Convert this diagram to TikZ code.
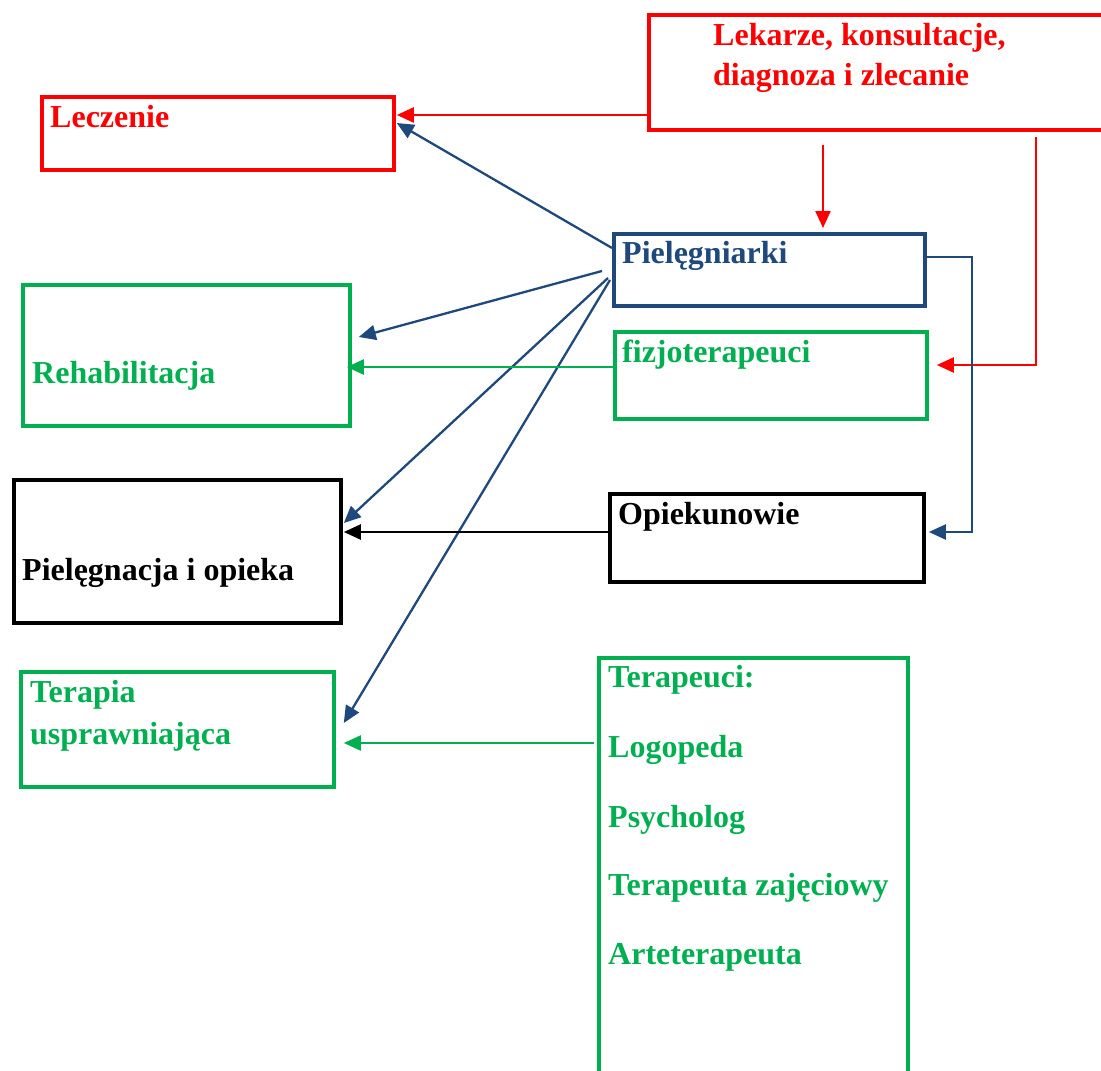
\documentclass[tikz,border=0pt]{standalone}
\usepackage{fontspec}
\setmainfont{Liberation Serif}
\usetikzlibrary{arrows.meta,calc}
\definecolor{cred}{RGB}{255,0,0}
\definecolor{cblue}{RGB}{31,73,125}
\definecolor{cgreen}{RGB}{0,176,80}
\tikzset{
  box/.style={draw, line width=3.8pt, inner sep=0pt, anchor=north west},
  redbox/.style={box, draw=cred},
  bluebox/.style={box, draw=cblue},
  greenbox/.style={box, draw=cgreen},
  blackbox/.style={box, draw=black},
  lbl/.style={anchor=base west, inner sep=0pt, font=\fontsize{32}{42}\selectfont\bfseries},
  arr/.style={line width=2.3pt, -{Triangle[length=17pt,width=15pt]}},
}
\begin{document}
\begin{tikzpicture}[x=1pt, y=-1pt]
\useasboundingbox (0,0) rectangle (1101,1071);

% boxes
\node[redbox,   minimum width=352pt, minimum height=73pt]  (lecz)   at (40,95)  {};
\node[redbox,   minimum width=470pt, minimum height=115pt] (lek)    at (647,13) {};
\node[bluebox,  minimum width=311pt, minimum height=72pt]  (piel)   at (612,232) {};
\node[greenbox, minimum width=312pt, minimum height=87pt]  (fizjo)  at (613,330) {};
\node[greenbox, minimum width=327pt, minimum height=141pt] (rehab)  at (21,283) {};
\node[blackbox, minimum width=314pt, minimum height=88pt]  (opiek)  at (608,492) {};
\node[blackbox, minimum width=327pt, minimum height=143pt] (pielop) at (12,478) {};
\node[greenbox, minimum width=313pt, minimum height=115pt] (terap)  at (19,670) {};
\node[greenbox, minimum width=309pt, minimum height=430pt] (terapeuci) at (597,656) {};

% labels
\node[lbl, text=cred]   (lecz-t)  at (50,127)  {Leczenie};
\node[lbl, text=cred]   (lek-t1)  at (713,45)  {Lekarze, konsultacje,};
\node[lbl, text=cred]   (lek-t2)  at (713,85)  {diagnoza i zlecanie};
\node[lbl, text=cblue]  (piel-t)  at (622,263) {Pielęgniarki};
\node[lbl, text=cgreen] (fizjo-t) at (622,362) {fizjoterapeuci};
\node[lbl, text=cgreen] (rehab-t) at (32,383)  {Rehabilitacja};
\node[lbl, text=black]  (opiek-t) at (618,524) {Opiekunowie};
\node[lbl, text=black]  (pielop-t) at (22,580) {Pielęgnacja i opieka};
\node[lbl, text=cgreen] (terap-t1) at (30,702) {Terapia};
\node[lbl, text=cgreen] (terap-t2) at (30,744) {usprawniająca};
\node[lbl, text=cgreen] (ter-t1) at (608,687) {Terapeuci:};
\node[lbl, text=cgreen] (ter-t2) at (608,757) {Logopeda};
\node[lbl, text=cgreen] (ter-t3) at (608,827) {Psycholog};
\node[lbl, text=cgreen] (ter-t4) at (608,895) {Terapeuta zajęciowy};
\node[lbl, text=cgreen] (ter-t5) at (608,964) {Arteterapeuta};

% free line ends
\coordinate (r1) at (823,145);
\coordinate (r2) at (1036,137);
\coordinate (b1) at (972,257);
\coordinate (f1) at ($(piel.west |- 0,271)+(-10,0)$);
\coordinate (f2) at ($(piel.west |- 0,278)+(-4,0)$);
\coordinate (f3) at ($(piel.west |- 0,280)+(-2,0)$);
\coordinate (g1) at ($(terapeuci.west |- 0,743)+(-3,0)$);

% doctors
\draw[arr, cred] (lek.west |- 0,115) -- ($(lecz.east |- 0,115)+(1,0)$);
\draw[arr, cred] (r1) -- ($(r1 |- piel.north)+(0,-4)$);
\draw[arr, cred] (r2) |- ($(fizjo.east |- 0,365)+(8,0)$);

% nurses
\draw[arr, cblue] (piel.east |- 0,257) -- (b1) |- ($(opiek.east |- 0,532)+(3,0)$);
\draw[arr, cblue] (piel.west |- 0,248) -- ($(lecz.east |- 0,123)+(1,0)$);
\draw[arr, cblue] (f1) -- ($(rehab.east |- 0,337)+(7,0)$);
\draw[arr, cblue] (f2) -- ($(pielop.east |- 0,523)+(1,0)$);
\draw[arr, cblue] (f3) -- ($(terap.east |- 0,723)+(8,0)$);

% other staff
\draw[arr, cgreen] (fizjo.west |- 0,367) -- ($(rehab.east |- 0,367)+(-5,0)$);
\draw[arr, black] (opiek.west |- 0,532) -- ($(pielop.east |- 0,532)+(1,0)$);
\draw[arr, cgreen] (g1) -- ($(terap.east |- 0,743)+(8,0)$);
\end{tikzpicture}
\end{document}
